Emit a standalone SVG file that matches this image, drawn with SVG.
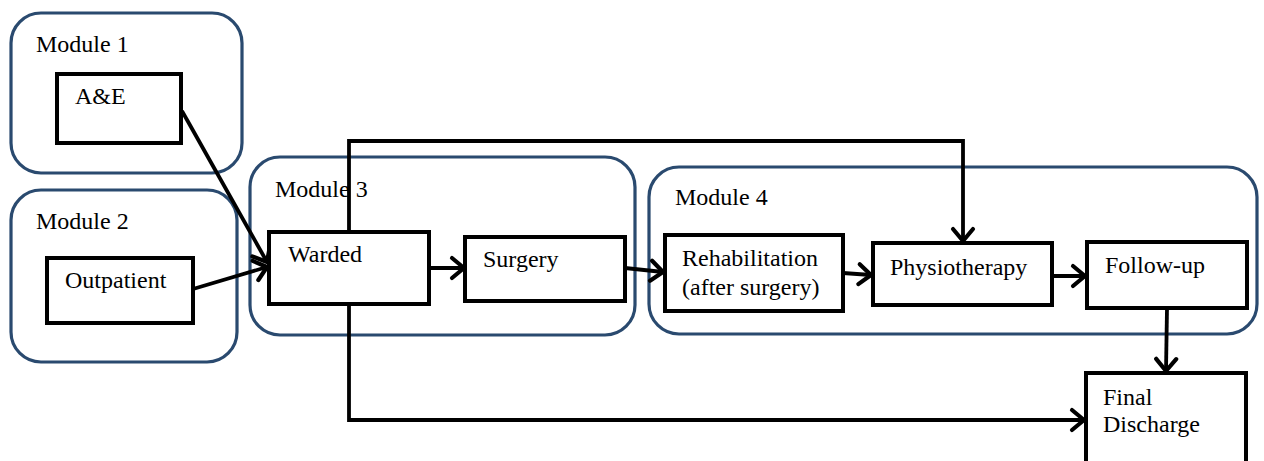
<svg xmlns="http://www.w3.org/2000/svg" width="1264" height="461" viewBox="0 0 1264 461">
  <style>
    .module { fill: none; stroke: #2a4a6f; stroke-width: 3.2; }
    .box { fill: #ffffff; stroke: #000000; stroke-width: 4; }
    .lbl { font-family: "Liberation Serif", "Times New Roman", serif; font-size: 24px; fill: #000000; }
    .conn { fill: none; stroke: #000000; stroke-width: 3.8; marker-end: url(#chev); }
  </style>
  <defs>
    <marker id="chev" markerUnits="userSpaceOnUse" markerWidth="22" markerHeight="26" viewBox="0 0 22 26" refX="15" refY="13" orient="auto">
      <path d="M3,3 L15,13 L3,23" fill="none" stroke="#000000" stroke-width="4.2" stroke-linecap="round" stroke-linejoin="round"/>
    </marker>
  </defs>
  <rect width="1264" height="461" fill="#ffffff"/>

  <g id="module1">
    <rect class="module" x="11" y="13" width="231" height="160" rx="30" ry="30"/>
    <text class="lbl" x="36" y="52">Module 1</text>
  </g>
  <g id="module2">
    <rect class="module" x="11" y="190" width="226" height="172" rx="30" ry="30"/>
    <text class="lbl" x="36" y="229">Module 2</text>
  </g>
  <g id="module3">
    <rect class="module" x="250" y="157" width="385" height="178" rx="30" ry="30"/>
    <text class="lbl" x="275" y="197">Module 3</text>
  </g>
  <g id="module4">
    <rect class="module" x="649" y="167" width="608" height="167" rx="30" ry="30"/>
    <text class="lbl" x="675" y="205">Module 4</text>
  </g>

  <g id="connectors">
    <path class="conn" d="M349,232 L349,141 L963,141 L963,241"/>
    <path class="conn" d="M349,304 L349,420 L1084,420"/>
    <path class="conn" d="M182,111 L267,262"/>
    <path class="conn" d="M193,289 L267,267"/>
    <path class="conn" d="M429,268 L464,268"/>
    <path class="conn" d="M625,268 L663,272"/>
    <path class="conn" d="M843,273 L871,275"/>
    <path class="conn" d="M1052,276 L1085,276"/>
    <path class="conn" d="M1167,308 L1166,371"/>
  </g>

  <g id="ae">
    <rect class="box" x="57" y="74" width="124" height="69"/>
    <text class="lbl" x="75" y="104">A&amp;E</text>
  </g>
  <g id="outpatient">
    <rect class="box" x="47" y="258" width="146" height="65"/>
    <text class="lbl" x="65" y="288">Outpatient</text>
  </g>
  <g id="warded">
    <rect class="box" x="269" y="232" width="160" height="72"/>
    <text class="lbl" x="288" y="262">Warded</text>
  </g>
  <g id="surgery">
    <rect class="box" x="465" y="237" width="160" height="64"/>
    <text class="lbl" x="483" y="267">Surgery</text>
  </g>
  <g id="rehabilitation">
    <rect class="box" x="665" y="235" width="178" height="76"/>
    <text class="lbl" x="682" y="266">Rehabilitation</text>
    <text class="lbl" x="682" y="295">(after surgery)</text>
  </g>
  <g id="physiotherapy">
    <rect class="box" x="873" y="243" width="179" height="62"/>
    <text class="lbl" x="890" y="275">Physiotherapy</text>
  </g>
  <g id="followup">
    <rect class="box" x="1087" y="242" width="160" height="66"/>
    <text class="lbl" x="1105" y="273">Follow-up</text>
  </g>
  <g id="final">
    <rect class="box" x="1086" y="373" width="160" height="100"/>
    <text class="lbl" x="1103" y="405">Final</text>
    <text class="lbl" x="1103" y="432">Discharge</text>
  </g>
</svg>
